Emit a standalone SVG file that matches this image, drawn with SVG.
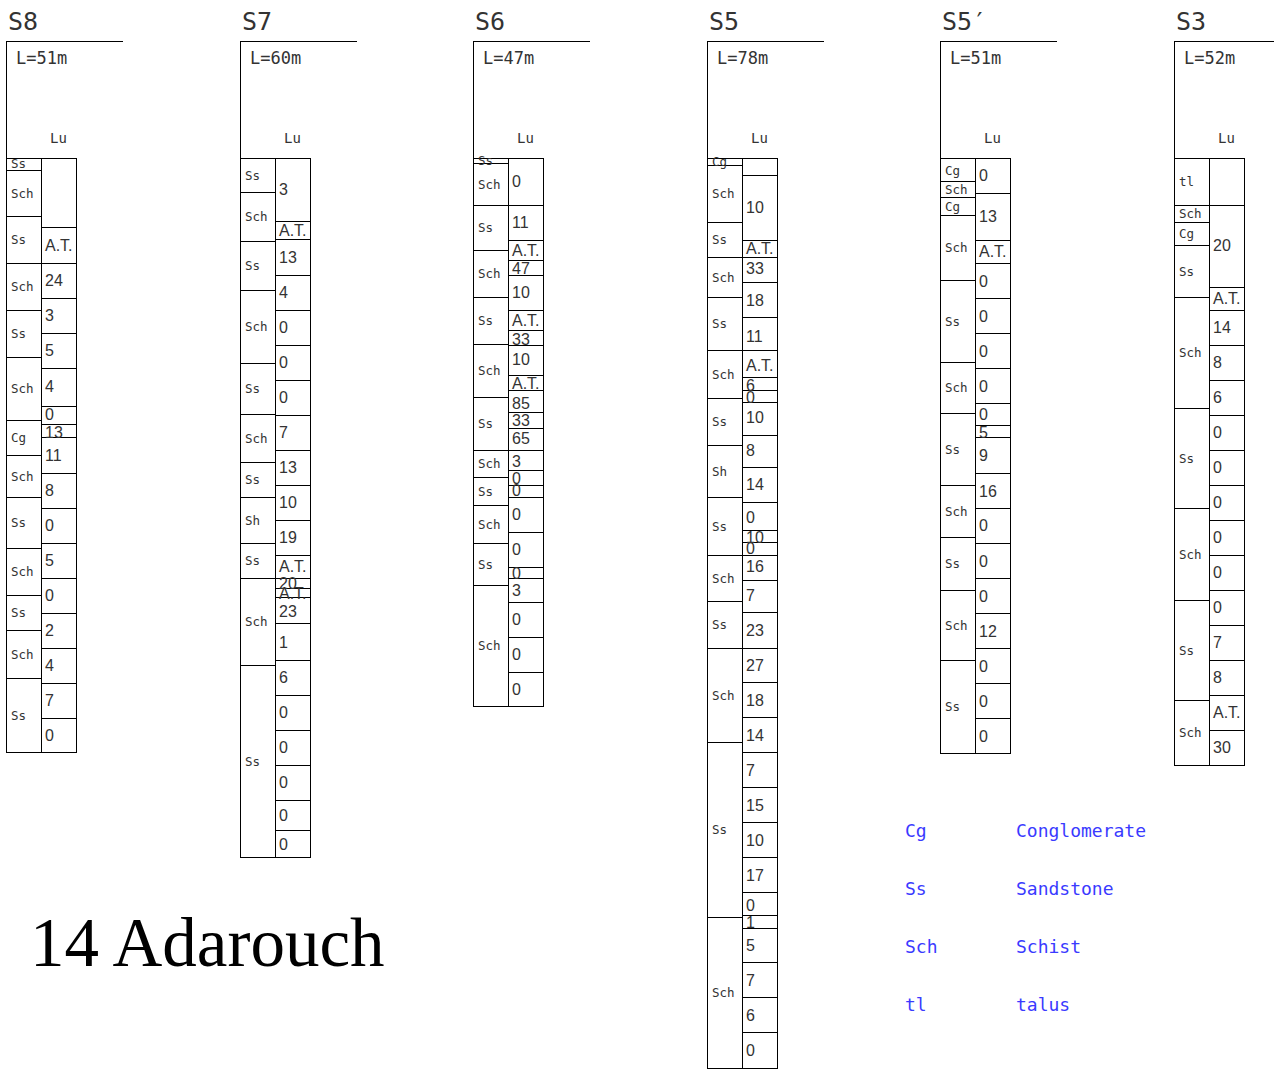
<svg xmlns="http://www.w3.org/2000/svg" width="1274" height="1069" viewBox="0 0 1274 1069">
<style>
.ln{fill:none;stroke:#000;stroke-width:1;shape-rendering:crispEdges}
.h{font-family:"DejaVu Sans Mono",monospace;font-size:25px;fill:#333}
.L{font-family:"DejaVu Sans Mono",monospace;font-size:17px;fill:#333}
.lu{font-family:"DejaVu Sans Mono",monospace;font-size:14px;fill:#333}
.k{font-family:"DejaVu Sans Mono",monospace;font-size:12.5px;fill:#333}
.v{font-family:"Liberation Sans",Arial,sans-serif;font-size:16px;fill:#333}
.lg{font-family:"DejaVu Sans Mono",monospace;font-size:18px;fill:#3a3aff}
.tt{font-family:"Liberation Serif","Times New Roman",serif;font-size:69px;fill:#000}
</style>
<rect width="1274" height="1069" fill="#fff"/>

<g id="S8" transform="translate(6,0)">
<text class="h" x="2" y="30">S8</text>
<text class="L" x="10" y="64">L=51m</text>
<text class="lu" x="44" y="143">Lu</text>
<path class="ln" d="M0 41H117M0 41V752"/>
<rect class="ln" x="0" y="158" width="70" height="594"/>
<path class="ln" d="M35 158V752M0 170H35M0 216H35M0 263H35M0 310H35M0 357H35M0 420H35M0 455H35M0 497H35M0 548H35M0 595H35M0 630H35M0 678H35"/>
<path class="ln" d="M35 227H70M35 263H70M35 298H70M35 333H70M35 368H70M35 406H70M35 424H70M35 437H70M35 473H70M35 508H70M35 543H70M35 578H70M35 613H70M35 648H70M35 683H70M35 718H70"/>
<text class="k" x="5" y="168">Ss</text>
<text class="k" x="5" y="197.5">Sch</text>
<text class="k" x="5" y="244">Ss</text>
<text class="k" x="5" y="291">Sch</text>
<text class="k" x="5" y="338">Ss</text>
<text class="k" x="5" y="393">Sch</text>
<text class="k" x="5" y="442">Cg</text>
<text class="k" x="5" y="480.5">Sch</text>
<text class="k" x="5" y="527">Ss</text>
<text class="k" x="5" y="576">Sch</text>
<text class="k" x="5" y="617">Ss</text>
<text class="k" x="5" y="658.5">Sch</text>
<text class="k" x="5" y="719.5">Ss</text>
<text class="v" x="39" y="251">A.T.</text>
<text class="v" x="39" y="286">24</text>
<text class="v" x="39" y="321">3</text>
<text class="v" x="39" y="356">5</text>
<text class="v" x="39" y="392">4</text>
<text class="v" x="39" y="420">0</text>
<text class="v" x="39" y="438">13</text>
<text class="v" x="39" y="461">11</text>
<text class="v" x="39" y="496">8</text>
<text class="v" x="39" y="531">0</text>
<text class="v" x="39" y="566">5</text>
<text class="v" x="39" y="601">0</text>
<text class="v" x="39" y="636">2</text>
<text class="v" x="39" y="671">4</text>
<text class="v" x="39" y="706">7</text>
<text class="v" x="39" y="741">0</text>
</g>

<g id="S7" transform="translate(240,0)">
<text class="h" x="2" y="30">S7</text>
<text class="L" x="10" y="64">L=60m</text>
<text class="lu" x="44" y="143">Lu</text>
<path class="ln" d="M0 41H117M0 41V857"/>
<rect class="ln" x="0" y="158" width="70" height="699"/>
<path class="ln" d="M35 158V857M0 192H35M0 241H35M0 290H35M0 363H35M0 414H35M0 462H35M0 497H35M0 543H35M0 578H35M0 665H35"/>
<path class="ln" d="M35 221H70M35 239H70M35 275H70M35 310H70M35 345H70M35 380H70M35 415H70M35 450H70M35 485H70M35 520H70M35 555H70M35 578H70M35 588H70M35 597H70M35 623H70M35 660H70M35 695H70M35 730H70M35 765H70M35 800H70M35 830H70"/>
<text class="k" x="5" y="179.5">Ss</text>
<text class="k" x="5" y="221">Sch</text>
<text class="k" x="5" y="270">Ss</text>
<text class="k" x="5" y="331">Sch</text>
<text class="k" x="5" y="393">Ss</text>
<text class="k" x="5" y="442.5">Sch</text>
<text class="k" x="5" y="484">Ss</text>
<text class="k" x="5" y="524.5">Sh</text>
<text class="k" x="5" y="565">Ss</text>
<text class="k" x="5" y="626">Sch</text>
<text class="k" x="5" y="765.5">Ss</text>
<text class="v" x="39" y="195">3</text>
<text class="v" x="39" y="236">A.T.</text>
<text class="v" x="39" y="263">13</text>
<text class="v" x="39" y="298">4</text>
<text class="v" x="39" y="333">0</text>
<text class="v" x="39" y="368">0</text>
<text class="v" x="39" y="403">0</text>
<text class="v" x="39" y="438">7</text>
<text class="v" x="39" y="473">13</text>
<text class="v" x="39" y="508">10</text>
<text class="v" x="39" y="543">19</text>
<text class="v" x="39" y="572">A.T.</text>
<text class="v" x="39" y="589">20</text>
<text class="v" x="39" y="599">A.T.</text>
<text class="v" x="39" y="617">23</text>
<text class="v" x="39" y="648">1</text>
<text class="v" x="39" y="683">6</text>
<text class="v" x="39" y="718">0</text>
<text class="v" x="39" y="753">0</text>
<text class="v" x="39" y="788">0</text>
<text class="v" x="39" y="821">0</text>
<text class="v" x="39" y="850">0</text>
</g>

<g id="S6" transform="translate(473,0)">
<text class="h" x="2" y="30">S6</text>
<text class="L" x="10" y="64">L=47m</text>
<text class="lu" x="44" y="143">Lu</text>
<path class="ln" d="M0 41H117M0 41V706"/>
<rect class="ln" x="0" y="158" width="70" height="548"/>
<path class="ln" d="M35 158V706M0 163H35M0 205H35M0 250H35M0 297H35M0 344H35M0 397H35M0 450H35M0 477H35M0 505H35M0 543H35M0 585H35"/>
<path class="ln" d="M35 205H70M35 240H70M35 260H70M35 275H70M35 310H70M35 330H70M35 345H70M35 375H70M35 390H70M35 412H70M35 428H70M35 450H70M35 470H70M35 485H70M35 497H70M35 532H70M35 567H70M35 578H70M35 602H70M35 637H70M35 672H70"/>
<text class="k" x="5" y="164.5">Ss</text>
<text class="k" x="5" y="188.5">Sch</text>
<text class="k" x="5" y="232">Ss</text>
<text class="k" x="5" y="278">Sch</text>
<text class="k" x="5" y="325">Ss</text>
<text class="k" x="5" y="375">Sch</text>
<text class="k" x="5" y="428">Ss</text>
<text class="k" x="5" y="468">Sch</text>
<text class="k" x="5" y="495.5">Ss</text>
<text class="k" x="5" y="528.5">Sch</text>
<text class="k" x="5" y="568.5">Ss</text>
<text class="k" x="5" y="650">Sch</text>
<text class="v" x="39" y="187">0</text>
<text class="v" x="39" y="228">11</text>
<text class="v" x="39" y="256">A.T.</text>
<text class="v" x="39" y="274">47</text>
<text class="v" x="39" y="298">10</text>
<text class="v" x="39" y="326">A.T.</text>
<text class="v" x="39" y="345">33</text>
<text class="v" x="39" y="365">10</text>
<text class="v" x="39" y="389">A.T.</text>
<text class="v" x="39" y="409">85</text>
<text class="v" x="39" y="426">33</text>
<text class="v" x="39" y="444">65</text>
<text class="v" x="39" y="467">3</text>
<text class="v" x="39" y="484">0</text>
<text class="v" x="39" y="496">0</text>
<text class="v" x="39" y="520">0</text>
<text class="v" x="39" y="555">0</text>
<text class="v" x="39" y="579">0</text>
<text class="v" x="39" y="596">3</text>
<text class="v" x="39" y="625">0</text>
<text class="v" x="39" y="660">0</text>
<text class="v" x="39" y="695">0</text>
</g>

<g id="S5" transform="translate(707,0)">
<text class="h" x="2" y="30">S5</text>
<text class="L" x="10" y="64">L=78m</text>
<text class="lu" x="44" y="143">Lu</text>
<path class="ln" d="M0 41H117M0 41V1068"/>
<rect class="ln" x="0" y="158" width="70" height="910"/>
<path class="ln" d="M35 158V1068M0 165H35M0 222H35M0 257H35M0 297H35M0 350H35M0 398H35M0 445H35M0 497H35M0 555H35M0 601H35M0 648H35M0 742H35M0 917H35"/>
<path class="ln" d="M35 175H70M35 240H70M35 257H70M35 282H70M35 317H70M35 350H70M35 377H70M35 390H70M35 402H70M35 435H70M35 467H70M35 502H70M35 530H70M35 542H70M35 555H70M35 580H70M35 612H70M35 648H70M35 682H70M35 717H70M35 752H70M35 787H70M35 822H70M35 857H70M35 892H70M35 915H70M35 928H70M35 962H70M35 997H70M35 1032H70"/>
<text class="k" x="5" y="165.5">Cg</text>
<text class="k" x="5" y="198">Sch</text>
<text class="k" x="5" y="244">Ss</text>
<text class="k" x="5" y="281.5">Sch</text>
<text class="k" x="5" y="328">Ss</text>
<text class="k" x="5" y="378.5">Sch</text>
<text class="k" x="5" y="426">Ss</text>
<text class="k" x="5" y="475.5">Sh</text>
<text class="k" x="5" y="530.5">Ss</text>
<text class="k" x="5" y="582.5">Sch</text>
<text class="k" x="5" y="629">Ss</text>
<text class="k" x="5" y="699.5">Sch</text>
<text class="k" x="5" y="834">Ss</text>
<text class="k" x="5" y="997">Sch</text>
<text class="v" x="39" y="213">10</text>
<text class="v" x="39" y="254">A.T.</text>
<text class="v" x="39" y="274">33</text>
<text class="v" x="39" y="306">18</text>
<text class="v" x="39" y="342">11</text>
<text class="v" x="39" y="371">A.T.</text>
<text class="v" x="39" y="391">6</text>
<text class="v" x="39" y="403">0</text>
<text class="v" x="39" y="423">10</text>
<text class="v" x="39" y="456">8</text>
<text class="v" x="39" y="490">14</text>
<text class="v" x="39" y="523">0</text>
<text class="v" x="39" y="543">10</text>
<text class="v" x="39" y="554">0</text>
<text class="v" x="39" y="572">16</text>
<text class="v" x="39" y="601">7</text>
<text class="v" x="39" y="636">23</text>
<text class="v" x="39" y="671">27</text>
<text class="v" x="39" y="706">18</text>
<text class="v" x="39" y="741">14</text>
<text class="v" x="39" y="776">7</text>
<text class="v" x="39" y="811">15</text>
<text class="v" x="39" y="846">10</text>
<text class="v" x="39" y="881">17</text>
<text class="v" x="39" y="911">0</text>
<text class="v" x="39" y="928">1</text>
<text class="v" x="39" y="951">5</text>
<text class="v" x="39" y="986">7</text>
<text class="v" x="39" y="1021">6</text>
<text class="v" x="39" y="1056">0</text>
</g>

<g id="S5p" transform="translate(940,0)">
<text class="h" x="2" y="30">S5′</text>
<text class="L" x="10" y="64">L=51m</text>
<text class="lu" x="44" y="143">Lu</text>
<path class="ln" d="M0 41H117M0 41V753"/>
<rect class="ln" x="0" y="158" width="70" height="595"/>
<path class="ln" d="M35 158V753M0 181H35M0 197H35M0 215H35M0 280H35M0 362H35M0 413H35M0 485H35M0 537H35M0 590H35M0 660H35"/>
<path class="ln" d="M35 193H70M35 240H70M35 263H70M35 298H70M35 333H70M35 368H70M35 403H70M35 425H70M35 437H70M35 473H70M35 508H70M35 543H70M35 578H70M35 613H70M35 648H70M35 683H70M35 718H70"/>
<text class="k" x="5" y="174.5">Cg</text>
<text class="k" x="5" y="193.5">Sch</text>
<text class="k" x="5" y="210.5">Cg</text>
<text class="k" x="5" y="252">Sch</text>
<text class="k" x="5" y="325.5">Ss</text>
<text class="k" x="5" y="392">Sch</text>
<text class="k" x="5" y="453.5">Ss</text>
<text class="k" x="5" y="515.5">Sch</text>
<text class="k" x="5" y="568">Ss</text>
<text class="k" x="5" y="629.5">Sch</text>
<text class="k" x="5" y="711">Ss</text>
<text class="v" x="39" y="181">0</text>
<text class="v" x="39" y="222">13</text>
<text class="v" x="39" y="257">A.T.</text>
<text class="v" x="39" y="287">0</text>
<text class="v" x="39" y="322">0</text>
<text class="v" x="39" y="357">0</text>
<text class="v" x="39" y="392">0</text>
<text class="v" x="39" y="420">0</text>
<text class="v" x="39" y="438">5</text>
<text class="v" x="39" y="461">9</text>
<text class="v" x="39" y="497">16</text>
<text class="v" x="39" y="531">0</text>
<text class="v" x="39" y="567">0</text>
<text class="v" x="39" y="602">0</text>
<text class="v" x="39" y="637">12</text>
<text class="v" x="39" y="672">0</text>
<text class="v" x="39" y="707">0</text>
<text class="v" x="39" y="742">0</text>
</g>

<g id="S3" transform="translate(1174,0)">
<text class="h" x="2" y="30">S3</text>
<text class="L" x="10" y="64">L=52m</text>
<text class="lu" x="44" y="143">Lu</text>
<path class="ln" d="M0 41H100M0 41V765"/>
<rect class="ln" x="0" y="158" width="70" height="607"/>
<path class="ln" d="M35 158V765M0 205H35M0 222H35M0 245H35M0 297H35M0 408H35M0 508H35M0 600H35M0 700H35"/>
<path class="ln" d="M35 205H70M35 287H70M35 310H70M35 345H70M35 380H70M35 415H70M35 450H70M35 485H70M35 520H70M35 555H70M35 590H70M35 625H70M35 660H70M35 695H70M35 730H70"/>
<text class="k" x="5" y="185.5">tl</text>
<text class="k" x="5" y="218">Sch</text>
<text class="k" x="5" y="238">Cg</text>
<text class="k" x="5" y="275.5">Ss</text>
<text class="k" x="5" y="357">Sch</text>
<text class="k" x="5" y="462.5">Ss</text>
<text class="k" x="5" y="558.5">Sch</text>
<text class="k" x="5" y="654.5">Ss</text>
<text class="k" x="5" y="737">Sch</text>
<text class="v" x="39" y="251">20</text>
<text class="v" x="39" y="304">A.T.</text>
<text class="v" x="39" y="333">14</text>
<text class="v" x="39" y="368">8</text>
<text class="v" x="39" y="403">6</text>
<text class="v" x="39" y="438">0</text>
<text class="v" x="39" y="473">0</text>
<text class="v" x="39" y="508">0</text>
<text class="v" x="39" y="543">0</text>
<text class="v" x="39" y="578">0</text>
<text class="v" x="39" y="613">0</text>
<text class="v" x="39" y="648">7</text>
<text class="v" x="39" y="683">8</text>
<text class="v" x="39" y="718">A.T.</text>
<text class="v" x="39" y="753">30</text>
</g>

<g id="legend">
<text class="lg" x="905" y="837">Cg</text>
<text class="lg" x="1016" y="837">Conglomerate</text>
<text class="lg" x="905" y="895">Ss</text>
<text class="lg" x="1016" y="895">Sandstone</text>
<text class="lg" x="905" y="953">Sch</text>
<text class="lg" x="1016" y="953">Schist</text>
<text class="lg" x="905" y="1011">tl</text>
<text class="lg" x="1016" y="1011">talus</text>
</g>

<g id="title">
<text class="tt" x="30" y="966">14 Adarouch</text>
</g>
<g id="connectors"/>
</svg>
